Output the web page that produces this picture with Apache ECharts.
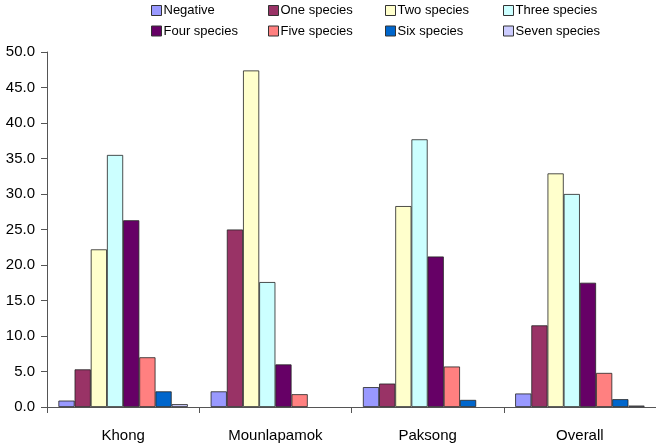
<!DOCTYPE html>
<html><head><meta charset="utf-8">
<script src="https://cdn.jsdelivr.net/npm/echarts@6/dist/echarts.min.js"></script>
<style>html,body{margin:0;padding:0;background:#fff}#c{width:656px;height:444px}</style>
</head><body><div id="c"></div>
<script>
const categories = ['Khong', 'Mounlapamok', 'Paksong', 'Overall'];
const seriesNames = ['Negative', 'One species', 'Two species', 'Three species', 'Four species', 'Five species', 'Six species', 'Seven species'];
const negative = [0.9, 2.2, 2.8, 1.9];
const oneSpecies = [5.3, 25.0, 3.3, 11.5];
const twoSpecies = [22.2, 47.4, 28.3, 32.9];
const threeSpecies = [35.5, 17.6, 37.7, 30.0];
const fourSpecies = [26.3, 6.0, 21.2, 17.5];
const fiveSpecies = [7.0, 1.8, 5.7, 4.8];
const sixSpecies = [2.2, null, 1.0, 1.1];
const sevenSpecies = [0.4, null, null, 0.2];
const yTicks = [0, 5, 10, 15, 20, 25, 30, 35, 40, 45, 50];

const values = [negative, oneSpecies, twoSpecies, threeSpecies, fourSpecies, fiveSpecies, sixSpecies, sevenSpecies];
const colors = ['#9999ff', '#993366', '#ffffcc', '#ccffff', '#660066', '#ff8080', '#0066cc', '#ccccff'];
const font = '"Liberation Sans", Arial, sans-serif';

const legendLeft = [151, 268, 385, 503];
const legendTop = [3.5, 24];

const chart = echarts.init(document.getElementById('c'), null, { renderer: 'canvas' });
chart.setOption({
  animation: false,
  color: colors,
  legend: seriesNames.map((n, i) => ({
    data: [n],
    left: legendLeft[i % 4],
    top: legendTop[i < 4 ? 0 : 1],
    itemWidth: 10, itemHeight: 10, itemGap: 4,
    padding: 0,
    icon: 'rect',
    itemStyle: { borderColor: '#333', borderWidth: 1 },
    textStyle: { fontFamily: font, fontSize: 13, lineHeight: 14, color: '#000', padding: [0, 0, 0, -3] },
    selectedMode: false
  })),
  grid: { left: 47, top: 52, width: 612, height: 355 },
  xAxis: {
    type: 'category',
    data: categories,
    axisLine: { lineStyle: { color: '#555', width: 1 } },
    axisTick: { show: true, length: 6, lineStyle: { color: '#555' } },
    axisLabel: { fontFamily: font, fontSize: 15, color: '#000', margin: 21 },
    splitLine: { show: false }
  },
  yAxis: {
    type: 'value',
    min: 0, max: 50, interval: 5,
    axisLine: { show: true, lineStyle: { color: '#555', width: 1 } },
    axisTick: { show: true, length: 6, lineStyle: { color: '#555' } },
    axisLabel: { fontFamily: font, fontSize: 15, color: '#000', margin: 12,
      formatter: v => yTicks.includes(v) ? v.toFixed(1) : '' },
    splitLine: { show: false }
  },
  series: seriesNames.map((n, i) => ({
    name: n,
    type: 'bar',
    data: values[i],
    barGap: '0%',
    barCategoryGap: '15%',
    itemStyle: { color: colors[i], borderColor: '#222', borderWidth: 0.8 }
  }))
});
</script></body></html>
